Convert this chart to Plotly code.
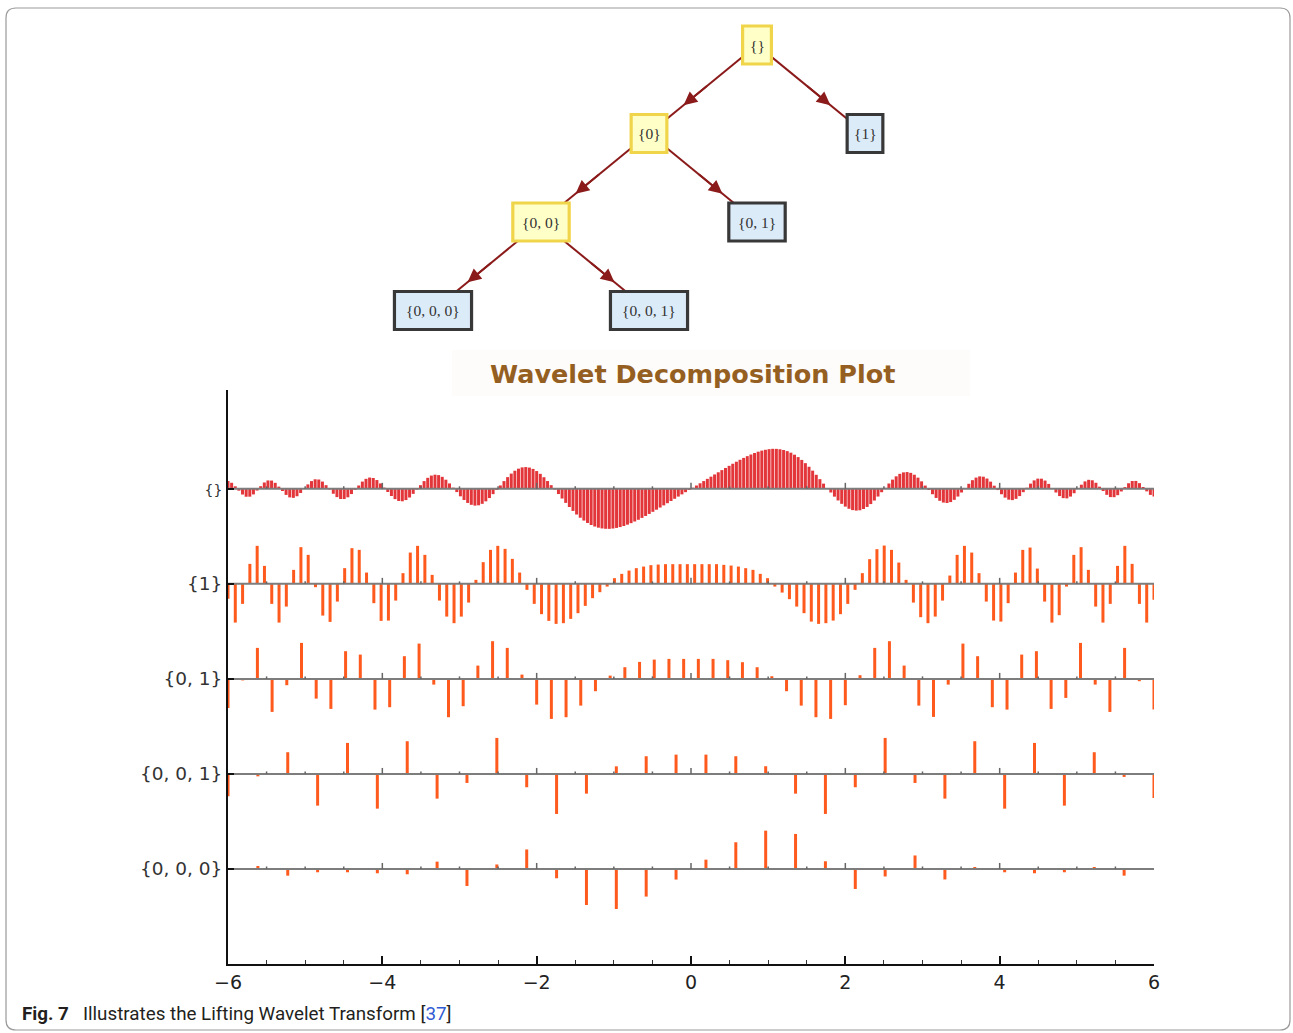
import numpy as np
import plotly.graph_objects as go

W, H = 1293, 1033

# ---------------- data ----------------
row_labels = ["{}", "{1}", "{0, 1}", "{0, 0, 1}", "{0, 0, 0}"]
row_levels = [5, 4, 3, 2, 1]
x_tick_vals = [-6, -4, -2, 0, 2, 4, 6]

# original signal (row "{}"), 256 samples over [-6, 6]
signal = [
    0.165, 0.129, 0.054, -0.039, -0.121, -0.168, -0.167, -0.119, -0.037, 0.056, 0.135, 0.178, 0.176, 0.128, 0.047, -0.046,
    -0.129, -0.182, -0.192, -0.158, -0.088, 0.003, 0.094, 0.165, 0.203, 0.198, 0.154, 0.078, -0.014, -0.105, -0.176, -0.216,
    -0.217, -0.180, -0.111, -0.023, 0.071, 0.154, 0.213, 0.240, 0.230, 0.187, 0.115, 0.026, -0.067, -0.153, -0.219, -0.258,
    -0.265, -0.239, -0.184, -0.107, -0.016, 0.078, 0.164, 0.234, 0.282, 0.301, 0.292, 0.255, 0.194, 0.115, 0.025, -0.069,
    -0.159, -0.238, -0.300, -0.340, -0.357, -0.350, -0.319, -0.266, -0.196, -0.113, -0.022, 0.072, 0.164, 0.249, 0.324, 0.385,
    0.429, 0.456, 0.463, 0.452, 0.424, 0.378, 0.319, 0.247, 0.166, 0.078, -0.016, -0.111, -0.206, -0.299, -0.387, -0.470,
    -0.546, -0.615, -0.675, -0.726, -0.769, -0.802, -0.826, -0.842, -0.850, -0.851, -0.844, -0.831, -0.813, -0.790, -0.762, -0.730,
    -0.695, -0.658, -0.618, -0.577, -0.534, -0.489, -0.444, -0.398, -0.352, -0.306, -0.259, -0.212, -0.165, -0.118, -0.071, -0.024,
    0.024, 0.071, 0.118, 0.165, 0.212, 0.259, 0.306, 0.352, 0.398, 0.444, 0.489, 0.534, 0.577, 0.618, 0.658, 0.695,
    0.730, 0.762, 0.790, 0.813, 0.831, 0.844, 0.851, 0.850, 0.842, 0.826, 0.802, 0.769, 0.726, 0.675, 0.615, 0.546,
    0.470, 0.387, 0.299, 0.206, 0.111, 0.016, -0.078, -0.166, -0.247, -0.319, -0.378, -0.424, -0.452, -0.463, -0.456, -0.429,
    -0.385, -0.324, -0.249, -0.164, -0.072, 0.022, 0.113, 0.196, 0.266, 0.319, 0.350, 0.357, 0.340, 0.300, 0.238, 0.159,
    0.069, -0.025, -0.115, -0.194, -0.255, -0.292, -0.301, -0.282, -0.234, -0.164, -0.078, 0.016, 0.107, 0.184, 0.239, 0.265,
    0.258, 0.219, 0.153, 0.067, -0.026, -0.115, -0.187, -0.230, -0.240, -0.213, -0.154, -0.071, 0.023, 0.111, 0.180, 0.217,
    0.216, 0.176, 0.105, 0.014, -0.078, -0.154, -0.198, -0.203, -0.165, -0.094, -0.003, 0.088, 0.158, 0.192, 0.182, 0.129,
    0.046, -0.047, -0.128, -0.176, -0.178, -0.135, -0.056, 0.037, 0.119, 0.167, 0.168, 0.121, 0.039, -0.054, -0.129, -0.165,
]

# detail coefficients, row "{1}" (128)
detail_1 = [
    -15, -38.7, -20, 20, 38, 18, -20, -38.7, -22.7, 14, 36.7, 29, -3.3, -31.7, -38, -17.7,
    15.7, 35.7, 34, 11.3, -19.3, -37, -36.7, -16.7, 10.7, 31.3, 38, 29, 9, -16.7, -32.7, -39.3,
    -32.7, -18.7, 4, 21.7, 34, 38, 35, 25, 11.3, -6, -20, -30.3, -37, -40, -39.3, -35,
    -29.3, -22, -14.3, -8.3, -2.7, 5.7, 10, 13.3, 15.7, 17.3, 18.7, 19.3, 19.7, 19.7, 19.7, 19.7,
    19.7, 19.7, 19.7, 19.7, 19, 18.3, 17.3, 15.7, 14, 10, 5.7, -2.7, -8.7, -15.3, -22.7, -29.3,
    -37.7, -40, -39.3, -36.7, -30.3, -20, -6, 10.7, 24.7, 34.7, 38.3, 34, 21.3, 4, -18.7, -33.3,
    -39.3, -32.7, -16.7, 8.3, 29, 38, 31.3, 10.7, -17.7, -36.7, -37.7, -19.3, 11.3, 34, 36.3, 15.3,
    -17.7, -38.7, -31.3, -2.7, 29, 36.7, 14, -22.7, -38.7, -20, 18, 38, 20, -20, -38.7, -16,
]

# detail coefficients, row "{0, 1}" (64)
detail_01 = [
    -29, -1.5, 31, -33, -6.3, 36, -19.7, -30, 27.7, 24.3, -30.7, -28.3, 22.7, 35.3, -5.7, -38.3,
    -27.3, 13.3, 37.7, 31, 4.3, -25.7, -40, -38.3, -26.7, -12.3, 3.3, 11.7, 17, 19.3, 20, 20,
    20, 20, 18.7, 16.7, 11.7, 2.7, -12.3, -26.7, -38.3, -40, -26.3, 3.7, 31, 37.7, 13.3, -26.7,
    -38, -5.7, 35.3, 22.7, -28.3, -30.7, 24.3, 27.7, -30, -19, 36, -5.7, -33, 31, -2.3, -30.7,
]

# detail coefficients, row "{0, 0, 1}" (32)
detail_001 = [
    -22.3, -2.4, 21.7, -31.7, 31, -34.7, 32.7, -24.7, -9, 36, -13.3, -40, -19.7, 7.6, 17.7, 19.3,
    19.3, 17.7, 7.7, -19.7, -40, -13.3, 36, -9, -24.7, 32.7, -34.7, 31, -31.7, 21.7, -3, -24,
]

# approximation coefficients, row "{0, 0, 0}" (32)
approx_000 = [
    0, 3, -6.7, -3.3, -3.3, -4.3, -5.3, 7.3, -17, 4.5, 19.5, -9.3, -36, -40, -27.6, -10.6,
    9.3, 26.7, 38.3, 35, 7.7, -20, -7.5, 13.5, -10.5, 2, -3.3, -4.3, -3.3, 2, -6.7, 0,
]

# decomposition tree (node labels); leaves drawn blue, inner nodes yellow
tree_labels = ["{}", "{0}", "{1}", "{0, 0}", "{0, 1}", "{0, 0, 0}", "{0, 0, 1}"]
leaf_labels = ["{1}", "{0, 1}", "{0, 0, 0}", "{0, 0, 1}"]

# ---------------- helpers ----------------
def PX(x):
    return x / W


def PY(y):
    return 1 - y / H


fig = go.Figure()

# ---------------- wavelet rows ----------------
series = [signal, detail_1, detail_01, detail_001, approx_000]
stem_colors = ["#E2363A", "#FF5A1E", "#FF5A1E", "#FF5A1E", "#FF5A1E"]
stem_widths = [3.0, 3.0, 3.0, 3.0, 3.0]
UNIT_PX = 95.0
AMP = 40.0 / UNIT_PX

for vals, lvl, col, lw in zip(series, row_levels, stem_colors, stem_widths):
    v = np.asarray(vals, dtype=float)
    xs_pos = np.linspace(-6, 6, len(v))
    sc = AMP / np.abs(v).max()
    xs, ys = [], []
    for xi, vi in zip(xs_pos, v):
        xs += [xi, xi, None]
        ys += [lvl, lvl + vi * sc, None]
    fig.add_trace(go.Scatter(x=xs, y=ys, mode="lines", line=dict(color=col, width=lw),
                             hoverinfo="skip", showlegend=False, xaxis="x", yaxis="y"))

# baselines with small tick marks
tick_x = np.arange(-6, 6.001, 0.5)
for lvl in row_levels:
    fig.add_trace(go.Scatter(x=[-6, 6], y=[lvl, lvl], mode="lines",
                             line=dict(color="#7d7d7d", width=2), hoverinfo="skip",
                             showlegend=False, xaxis="x", yaxis="y"))
    txs, tys = [], []
    for tx in tick_x:
        if abs(tx) > 5.99:
            continue
        major = abs(tx / 2 - round(tx / 2)) < 1e-9
        ln = (6.0 if major else 2.5) / UNIT_PX
        txs += [tx, tx, None]
        tys += [lvl, lvl + ln, None]
    fig.add_trace(go.Scatter(x=txs, y=tys, mode="lines", line=dict(color="#666666", width=1.5),
                             hoverinfo="skip", showlegend=False, xaxis="x", yaxis="y"))

# ---------------- tree ----------------
ROOT_X, ROOT_Y, DX, DY = 757.0, 45.0, 108.0, 88.5
NODE_H = 38.0


def node_pos(label):
    bits = [c for c in label if c.isdigit()]
    x = ROOT_X
    for b in bits:
        x += (-DX if b == "0" else DX)
    return x, ROOT_Y + DY * len(bits), bits


def label_of(bits):
    return "{" + ", ".join(bits) + "}"


edge_x, edge_y = [], []
arrow_anns = []
for lab in tree_labels:
    cx, cy, bits = node_pos(lab)
    if not bits:
        continue
    px_, py_, _ = node_pos(label_of(bits[:-1]))
    edge_x += [px_, cx, None]
    edge_y += [py_, cy, None]
    t0, t1 = 0.45, 0.68
    arrow_anns.append(dict(
        x=px_ + (cx - px_) * t1, y=py_ + (cy - py_) * t1,
        ax=px_ + (cx - px_) * t0, ay=py_ + (cy - py_) * t0,
        xref="x2", yref="y2", axref="x2", ayref="y2", text="",
        showarrow=True, arrowhead=2, arrowsize=1.5, arrowwidth=1.8,
        arrowcolor="#8B1A1A", standoff=0, startstandoff=0))

fig.add_trace(go.Scatter(x=edge_x, y=edge_y, mode="lines", line=dict(color="#8B1A1A", width=2),
                         hoverinfo="skip", showlegend=False, xaxis="x2", yaxis="y2"))

shapes = []
annotations = list(arrow_anns)
for lab in tree_labels:
    cx, cy, bits = node_pos(lab)
    w = 15 + 6.9 * len(lab)
    if lab in leaf_labels:
        fill, lc, lwid = "#DCEBF8", "#383838", 3.2
    else:
        fill, lc, lwid = "#FFFFC8", "#F0D54A", 3.2
    shapes.append(dict(type="rect", xref="x2", yref="y2", x0=cx - w / 2, x1=cx + w / 2,
                       y0=cy - NODE_H / 2, y1=cy + NODE_H / 2, fillcolor=fill,
                       line=dict(color=lc, width=lwid), layer="above"))
    annotations.append(dict(x=cx, y=cy, xref="x2", yref="y2", text=lab, showarrow=False,
                            font=dict(family="Liberation Serif, DejaVu Serif, serif", size=15.5, color="#333333")))

# ---------------- title, caption, frame ----------------
shapes.append(dict(type="rect", xref="paper", yref="paper", x0=PX(452), x1=PX(970),
                   y0=PY(396), y1=PY(350), fillcolor="#FDFCFB", line=dict(width=0), layer="below"))
annotations.append(dict(x=PX(692), y=PY(374), xref="paper", yref="paper", xanchor="center", yanchor="middle",
                        text="<b>Wavelet Decomposition Plot</b>", showarrow=False,
                        font=dict(family="DejaVu Sans, Verdana, sans-serif", size=25.5, color="#955F22")))
annotations.append(dict(x=PX(20), y=PY(1014), xref="paper", yref="paper", xanchor="left", yanchor="middle",
                        text="<b>Fig. 7</b>   Illustrates the Lifting Wavelet Transform [<span style='color:#2F5BD3'>37</span>]",
                        showarrow=False,
                        font=dict(family="Liberation Sans Narrow, Roboto, sans-serif", size=18.8, color="#231F20")))

r = 10
x0b, x1b, y0b, y1b = 6, 1290, 8, 1030
path = (f"M {PX(x0b + r)} {PY(y0b)} L {PX(x1b - r)} {PY(y0b)} Q {PX(x1b)} {PY(y0b)} {PX(x1b)} {PY(y0b + r)} "
        f"L {PX(x1b)} {PY(y1b - r)} Q {PX(x1b)} {PY(y1b)} {PX(x1b - r)} {PY(y1b)} "
        f"L {PX(x0b + r)} {PY(y1b)} Q {PX(x0b)} {PY(y1b)} {PX(x0b)} {PY(y1b - r)} "
        f"L {PX(x0b)} {PY(y0b + r)} Q {PX(x0b)} {PY(y0b)} {PX(x0b + r)} {PY(y0b)} Z")
shapes.append(dict(type="path", xref="paper", yref="paper", path=path,
                   line=dict(color="#9a9a9a", width=1.2)))

ytext = list(row_labels)
ytext[0] = "<span style='font-size:14px'>" + row_labels[0] + "</span>"

fig.update_layout(
    width=W, height=H, margin=dict(l=0, r=0, t=0, b=0, autoexpand=False),
    paper_bgcolor="white", plot_bgcolor="rgba(0,0,0,0)",
    showlegend=False,
    xaxis=dict(domain=[PX(228), PX(1154)], range=[-6, 6], showline=True, linecolor="#111111", linewidth=2,
               ticks="inside", ticklen=8, tickwidth=1.5, tickcolor="#111111",
               tickvals=x_tick_vals, showgrid=False, zeroline=False, anchor="y", automargin=False,
               tickfont=dict(family="DejaVu Sans, Verdana, sans-serif", size=19, color="#222222"),
               minor=dict(ticks="inside", ticklen=4, tickwidth=1.2, dtick=0.5, tickcolor="#333333", showgrid=False),
               fixedrange=True),
    yaxis=dict(domain=[PY(964), PY(390)], range=[0, 6.04], showline=True, linecolor="#111111", linewidth=2,
               ticks="inside", ticklen=6, tickwidth=1.5, tickcolor="#111111",
               tickvals=row_levels, ticktext=ytext, showgrid=False, zeroline=False, anchor="x", automargin=False,
               tickfont=dict(family="DejaVu Sans, Verdana, sans-serif", size=18.5, color="#333333"),
               fixedrange=True),
    xaxis2=dict(domain=[0, 1], range=[0, W], visible=False, anchor="y2", fixedrange=True, automargin=False),
    yaxis2=dict(domain=[PY(345), 1], range=[345, 0], visible=False, anchor="x2", fixedrange=True, automargin=False),
    shapes=shapes,
    annotations=annotations,
)

fig.write_html("out.html", config={"displayModeBar": False},
               post_script="document.body.style.margin='0';document.body.style.overflow='hidden';")
